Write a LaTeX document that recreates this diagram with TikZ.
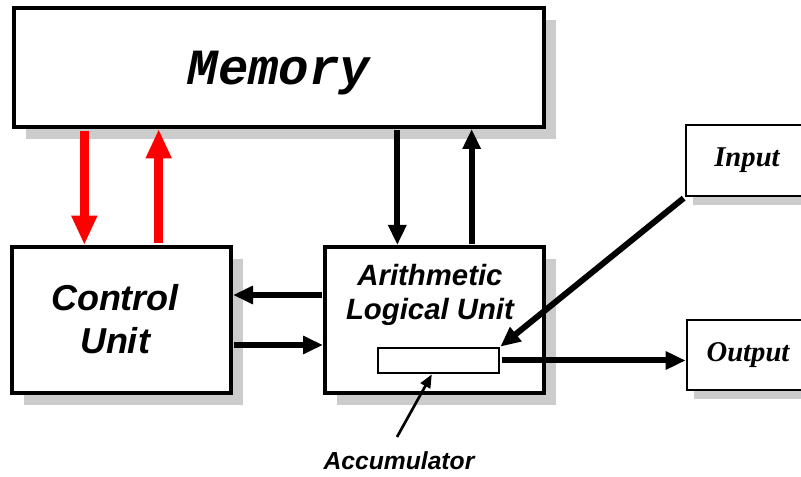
\documentclass[tikz,border=0pt]{standalone}
\usepackage{fontspec}
\usetikzlibrary{arrows.meta,shadows,calc}
\newfontfamily\memfont{Liberation Mono}
\newfontfamily\helvfont{Liberation Sans}
\newfontfamily\timesfont{Liberation Serif}

\begin{document}
\begin{tikzpicture}[x=0.75pt,y=-0.75pt,
    unitbox/.style={draw,line width=3pt,fill=white,inner sep=0pt,
      drop shadow={shadow xshift=9pt,shadow yshift=-9pt,fill=black!20,opacity=1}},
    iobox/.style={draw,line width=2pt,fill=white,inner sep=0pt,minimum width=91.5pt,
      drop shadow={shadow xshift=5pt,shadow yshift=-7pt,fill=black!20,opacity=1},
      font=\timesfont\bfseries\itshape\fontsize{21.5}{24}\selectfont},
    redflow/.style={red,line width=6.4pt,shorten <=1.5pt,-{Triangle[length=22pt,width=18pt]}},
    flow/.style={line width=4.5pt,shorten <=1pt,-{Triangle[length=15pt,width=13pt]}},
    pointer/.style={line width=2pt,-{Triangle[length=10pt,width=8pt]}}]
  \useasboundingbox (0,0) rectangle (801,477);
            \node (mem) at (279,67.5) [unitbox,minimum width=397.5pt,minimum height=89.25pt,text depth=0pt,
              font=\memfont\bfseries\itshape\fontsize{38}{40}\selectfont] {Memory};
            \node (ctrl) at (121.5,320) [unitbox,minimum width=164.25pt,minimum height=109.5pt] {};
            \node (ctrltxt) at (115,319) [inner sep=0pt,align=center,
              font=\helvfont\bfseries\itshape\fontsize{27}{32}\selectfont] {Control\\Unit};
            \node (alu) at (434.5,320) [unitbox,minimum width=164.25pt,minimum height=109.5pt] {};
            \node (alutxt) at (430,295) [inner sep=0pt,align=center,
              font=\helvfont\bfseries\itshape\fontsize{22}{26}\selectfont] {Arithmetic\\Logical Unit};
            \node (acc) at (438.5,360.5) [draw,line width=2pt,fill=white,inner sep=0pt,
              minimum width=90.75pt,minimum height=18.75pt] {};
            \node (inp) at (747,160.5) [iobox,minimum height=53.25pt] {Input};
            \node (outp) at (748,355) [iobox,minimum height=52.5pt] {Output};
            \node (acclab) at (399,470) [anchor=base,
              font=\helvfont\bfseries\itshape\fontsize{18.5}{20}\selectfont] {Accumulator};
            \coordinate (acctail) at (397,437);
            \coordinate (cuL) at ($(ctrl.north west)!1/3!(ctrl.north east)$);
            \coordinate (cuR) at ($(ctrl.north west)!2/3!(ctrl.north east)$);
            \coordinate (alL) at ($(alu.north west)!1/3!(alu.north east)$);
            \coordinate (alR) at ($(alu.north west)!2/3!(alu.north east)$);
            \coordinate (alA) at ($(alu.north west)!1/3!(alu.south west)$);
            \coordinate (alB) at ($(alu.north west)!2/3!(alu.south west)$);
            \draw[redflow] (cuL |- mem.south) -- (cuL);
            \draw[redflow] (cuR) -- (cuR |- mem.south);
            \draw[flow] (alL |- mem.south) -- (alL);
            \draw[flow] (alR) -- (alR |- mem.south);
            \draw[flow] (alA) -- (alA -| ctrl.east);
            \draw[flow] (alB -| ctrl.east) -- (alB);
            \draw[flow] (inp.south west) -- (acc.north east);
            \draw[flow] (acc.east) -- (acc.east -| outp.west);
            \draw[pointer] (acctail) -- ([xshift=-5pt]acc.south);
        \end{tikzpicture}
\end{document}
